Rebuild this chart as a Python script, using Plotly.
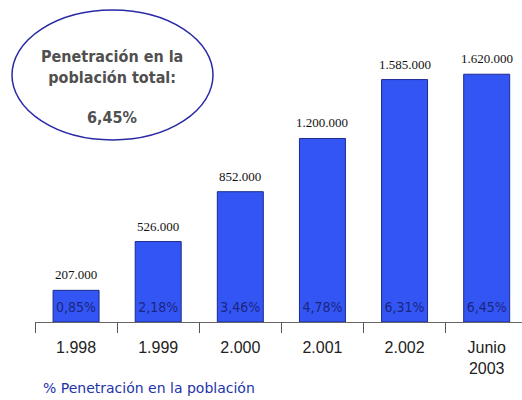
import plotly.graph_objects as go

categories = ["1.998", "1.999", "2.000", "2.001", "2.002", "Junio<br>2003"]
users = [207000, 526000, 852000, 1200000, 1585000, 1620000]
penetration = ["0,85%", "2,18%", "3,46%", "4,78%", "6,31%", "6,45%"]
total_penetration = "6,45%"

value_labels = [f"{v:,}".replace(",", ".") for v in users]

W, H = 522, 400
ML, MR, MT, MB = 35, 0, 10, 78
pw, ph = W - ML - MR, H - MT - MB
PCT_LABEL_Y = 40000  # vertical position of the in-bar percentage labels

def px(x):
    return (x - ML) / pw

def py(y):
    return (H - MB - y) / ph

COND = "DejaVu Sans Condensed, Liberation Sans Narrow, Arial Narrow, Arial"

fig = go.Figure()
fig.add_trace(go.Bar(
    x=categories, y=users, width=0.56,
    marker=dict(color="#3355f3", line=dict(color="#1c2a8c", width=1)),
    showlegend=False, hoverinfo="skip",
))
fig.add_trace(go.Scatter(
    x=categories, y=[PCT_LABEL_Y] * len(categories), mode="text", text=penetration,
    textposition="top center",
    textfont=dict(family=COND, size=14, color="#1a2680"),
    cliponaxis=False, showlegend=False, hoverinfo="skip",
))
# category axis: annotations addressed by category index
for i, (v, lbl) in enumerate(zip(users, value_labels)):
    fig.add_annotation(x=i, y=v, text=lbl, showarrow=False,
                       xanchor="center", yanchor="bottom", yshift=6,
                       font=dict(family="Liberation Serif, Times New Roman, serif",
                                 size=13, color="#111"))

fig.add_shape(type="circle", xref="paper", yref="paper",
              x0=px(12), x1=px(213), y0=py(140), y1=py(10),
              line=dict(color="#2a2aa6", width=1.5))
fig.add_annotation(xref="paper", yref="paper", x=px(112), y=py(67),
                   xanchor="center", yanchor="middle",
                   text="<b>Penetración en la<br>población total:</b>",
                   showarrow=False, align="center",
                   font=dict(family=COND, size=16, color="#505050"))
fig.add_annotation(xref="paper", yref="paper", x=px(112), y=py(117),
                   xanchor="center", yanchor="middle",
                   text="<b>" + total_penetration + "</b>",
                   showarrow=False,
                   font=dict(family=COND, size=16, color="#505050"))
fig.add_annotation(xref="paper", yref="paper", x=px(41), y=py(388),
                   xanchor="left", yanchor="middle", text="% Penetración en la población",
                   showarrow=False,
                   font=dict(family="DejaVu Sans, Arial", size=14, color="#2233aa"))

fig.update_layout(
    width=W, height=H,
    margin=dict(l=ML, r=MR, t=MT, b=MB, autoexpand=False),
    paper_bgcolor="white", plot_bgcolor="white",
    xaxis=dict(type="category", range=[-0.5, 5.43], showline=True, linecolor="#666",
               linewidth=1, ticks="outside", tickson="boundaries", ticklen=10,
               tickcolor="#555", showgrid=False, automargin=False,
               ticklabelstandoff=11,
               tickfont=dict(family="Liberation Sans, Arial", size=16, color="#222")),
    yaxis=dict(range=[0, 2040000], visible=False, showgrid=False, zeroline=False,
               automargin=False),
    font=dict(family="Liberation Sans, Arial"),
)

fig.write_html("out.html", config={"displayModeBar": False},
               post_script="document.body.style.margin='0';")
